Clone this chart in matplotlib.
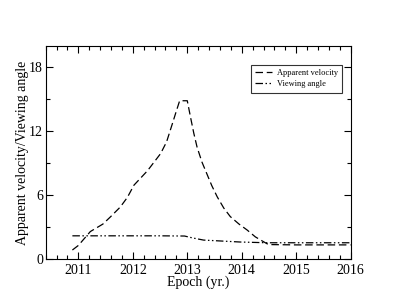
import matplotlib
matplotlib.use("Agg")
import matplotlib.pyplot as plt
from matplotlib.ticker import MultipleLocator

plt.rcParams['font.family'] = ['Liberation Serif', 'DejaVu Serif']

# apparent velocity (dashed)
vel_year = [2010.89, 2011.0, 2011.22, 2011.45, 2011.59, 2011.77, 2011.9, 2012.02, 2012.27,
            2012.51, 2012.62, 2012.72, 2012.8, 2012.86, 2013.0, 2013.06, 2013.12, 2013.18,
            2013.27, 2013.36, 2013.45, 2013.55, 2013.67, 2013.79, 2013.95, 2014.1,
            2014.25, 2014.4, 2014.49, 2015.0, 2016.0]
vel_val = [0.87, 1.3, 2.6, 3.3, 3.98, 4.9, 5.8, 6.94, 8.3,
           9.9, 11.0, 12.6, 13.9, 14.85, 14.85, 13.3, 11.8, 10.5,
           9.1, 8.0, 6.9, 5.85, 4.8, 4.0, 3.3, 2.74,
           2.1, 1.65, 1.38, 1.35, 1.35]

# viewing angle (dash-dot)
ang_year = [2010.89, 2011.5, 2012.0, 2012.5, 2012.95, 2013.1, 2013.3, 2013.97, 2014.46, 2015.0, 2016.0]
ang_val = [2.2, 2.2, 2.2, 2.2, 2.18, 2.0, 1.8, 1.62, 1.55, 1.55, 1.55]

fig = plt.figure(figsize=(3.95, 3.05), dpi=100)
ax = fig.add_axes([0.1157, 0.1498, 0.772, 0.7002])

ax.plot(vel_year, vel_val, color='black', lw=0.9, dashes=(6, 3), label='Apparent velocity')
ax.plot(ang_year, ang_val, color='black', lw=0.9, dashes=(6, 2, 1.2, 2, 1.2, 2), label='Viewing angle')

ax.set_xlim(2010.4, 2016)
ax.set_ylim(0, 20)
ax.xaxis.set_major_locator(MultipleLocator(1))
ax.xaxis.set_minor_locator(MultipleLocator(0.2))
ax.yaxis.set_major_locator(MultipleLocator(6))
ax.yaxis.set_minor_locator(MultipleLocator(3))
ax.tick_params(which='both', direction='in', top=True, right=True, labelsize=10, width=0.8)
ax.tick_params(axis='y', pad=2)
ax.tick_params(which='major', length=5)
ax.tick_params(which='minor', length=3)
for s in ax.spines.values():
    s.set_linewidth(0.8)

ax.set_xlabel('Epoch (yr.)', fontsize=10, labelpad=-1)
ax.set_ylabel('Apparent velocity/Viewing angle', fontsize=10, labelpad=0)

leg = ax.legend(loc='upper right', bbox_to_anchor=(0.985, 0.93), fontsize=6, frameon=True,
                fancybox=False, edgecolor='black', handlelength=2.0, handletextpad=0.6,
                borderpad=0.5, labelspacing=0.4)
leg.get_frame().set_linewidth(0.8)

fig.savefig('out.png', dpi=100)
